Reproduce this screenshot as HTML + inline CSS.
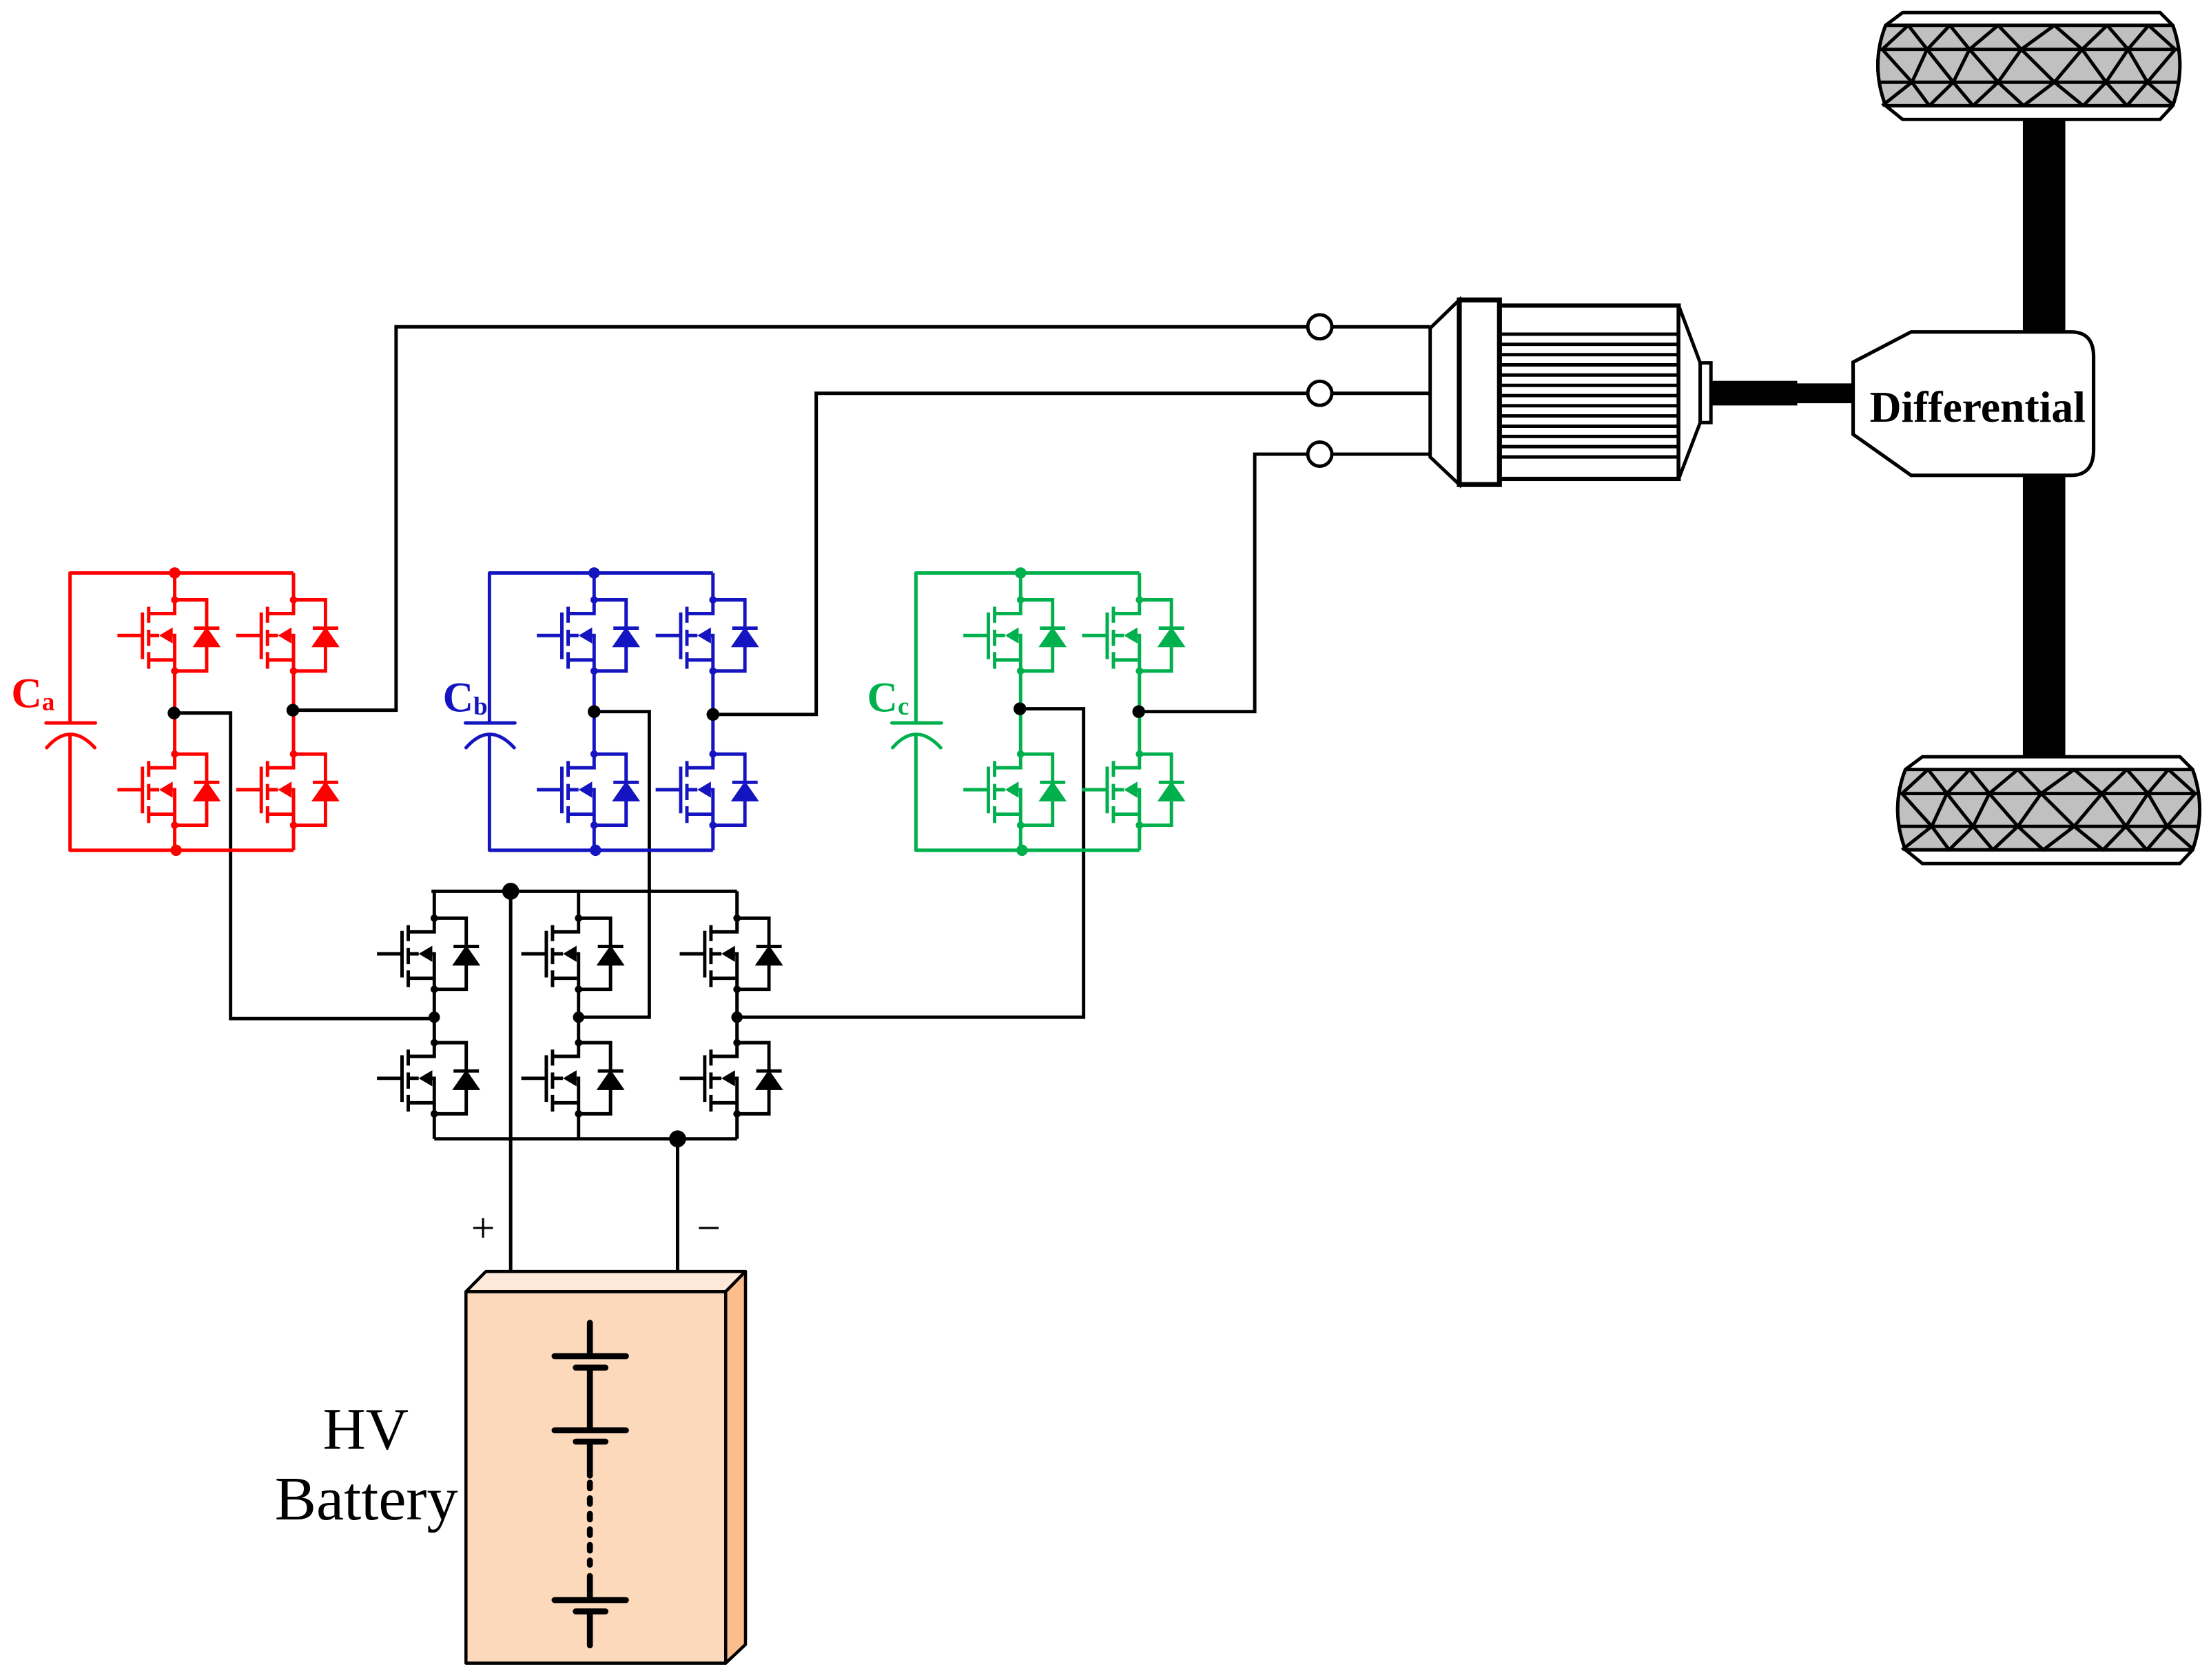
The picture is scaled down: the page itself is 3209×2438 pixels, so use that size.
<!DOCTYPE html>
<html><head><meta charset="utf-8"><style>html,body{margin:0;padding:0;background:#fff}svg{display:block}</style></head>
<body>
<svg xmlns="http://www.w3.org/2000/svg" xmlns:xlink="http://www.w3.org/1999/xlink" width="3209" height="2438" viewBox="0 0 1563 1187.5" preserveAspectRatio="none">
<defs>
<g id="m" stroke="currentColor" stroke-width="2.4" fill="none">
  <path d="M0,0 V9.7 H-18.4 M-18.4,4.9 V16.2 M-18.4,21.1 V32.5 M-18.4,36.9 V48.7 M-22.8,8.9 V41.9 M-40.5,25.2 H-22.8 M-18.4,25.2 H-11 M-1.4,25.2 H0 V50.3 M-18.4,42.5 H0 M0,0 H22.6 V50.3 H0 M13.6,20 H31.6"/>
  <polygon points="-11,25.2 -1.4,19.5 -1.4,30.9" fill="currentColor" stroke="none"/>
  <polygon points="13.6,33 31.6,33 22.6,20" fill="currentColor" stroke="currentColor" stroke-width="1"/>
  <circle cx="0" cy="0" r="2.6" fill="currentColor" stroke="none"/>
  <circle cx="0" cy="50.3" r="2.6" fill="currentColor" stroke="none"/>
</g>
<g id="br">
  <g stroke="currentColor" stroke-width="2.4" fill="none">
    <path d="M0,405 H158 M0,601 H158 M74,405 V424 M74,474 V533 M74,583 V601 M158,405 V424 M158,474 V533 M158,583 V601"/>
    <path d="M0,405 V511 M-17,511 H18 M-16.5,528.5 Q0,509.5 17.5,528.5 M0,519 V601" stroke-linecap="round"/>
  </g>
  <use xlink:href="#m" x="74" y="424"/><use xlink:href="#m" x="74" y="533"/>
  <use xlink:href="#m" x="158" y="424"/><use xlink:href="#m" x="158" y="533"/>
  <circle cx="74" cy="405" r="4" fill="currentColor"/><circle cx="75" cy="601" r="4" fill="currentColor"/>
</g>
</defs>

<g stroke="#000" stroke-width="2.4" fill="none">
  <path d="M123,504 H163 V720 H307"/>
  <path d="M207,502 H280 V231 H924.5"/>
  <path d="M420,503 H459 V719 H409"/>
  <path d="M504,505 H577 V278 H924.5"/>
  <path d="M721,501 H766 V719 H521"/>
  <path d="M805,503 H887 V321 H924.5"/>
</g>

<g color="#ff0000" transform="translate(49.5,0)"><use xlink:href="#br"/></g>
<g color="#1414c0" transform="translate(346,0)"><use xlink:href="#br"/></g>
<g color="#00b04c" transform="translate(647.5,0)"><use xlink:href="#br"/></g>
<g fill="#000">
  <circle cx="123" cy="504" r="4.5"/><circle cx="207" cy="502" r="4.5"/>
  <circle cx="420" cy="503" r="4.5"/><circle cx="504" cy="505" r="4.5"/>
  <circle cx="721" cy="501" r="4.5"/><circle cx="805" cy="503" r="4.5"/>
</g>
<g font-family="Liberation Serif, serif" font-weight="bold">
  <text x="8" y="500" font-size="30" fill="#ff0000">C<tspan font-size="18" dy="2">a</tspan></text>
  <text x="313" y="503" font-size="30" fill="#1414c0">C<tspan font-size="18" dy="2">b</tspan></text>
  <text x="613" y="503" font-size="30" fill="#00b04c">C<tspan font-size="18" dy="2">c</tspan></text>
</g>

<g color="#000">
  <g stroke="#000" stroke-width="2.4" fill="none">
    <path d="M305,630 H521 M307,805 H521"/>
    <path d="M307,630 V649 M307,699 V737 M307,787 V805"/>
    <path d="M409,630 V649 M409,699 V737 M409,787 V805"/>
    <path d="M521,630 V649 M521,699 V737 M521,787 V805"/>
    <path d="M361,630 V900 M479,805 V900"/>
  </g>
  <use xlink:href="#m" x="307" y="649"/><use xlink:href="#m" x="307" y="737"/>
  <use xlink:href="#m" x="409" y="649"/><use xlink:href="#m" x="409" y="737"/>
  <use xlink:href="#m" x="521" y="649"/><use xlink:href="#m" x="521" y="737"/>
  <circle cx="361" cy="630" r="6"/><circle cx="479" cy="805" r="6"/>
  <circle cx="307" cy="719" r="4"/><circle cx="409" cy="719" r="4"/><circle cx="521" cy="719" r="4"/>
</g>

<g stroke="#000" stroke-width="2.2" stroke-linejoin="round">
  <polygon points="329.4,913 343.5,898.7 527,898.7 513,913" fill="#fee8d8"/>
  <polygon points="513,913 527,898.7 527,1162.4 513,1175.6" fill="#fbbd8c"/>
  <rect x="329.4" y="913" width="183.6" height="262.6" fill="#fdd9bc"/>
</g>
<g stroke="#000" stroke-width="4.2" stroke-linecap="round" fill="none">
  <path d="M417,935 V958.6 M392,958.6 H442.5 M407,966.7 H428 M417,966.7 V1011 M392,1011 H442.5 M407,1019 H428 M417,1019 V1043"/>
  <path d="M417,1048 V1106" stroke-dasharray="4,7"/>
  <path d="M417,1114 V1131 M392,1131 H442.5 M407,1139 H428 M417,1139 V1163"/>
</g>
<g font-family="Liberation Serif, serif" fill="#000">
  <text x="258.5" y="1024" font-size="42" text-anchor="middle">HV</text>
  <text x="259" y="1074" font-size="44" text-anchor="middle">Battery</text>
  <text x="341.5" y="878" font-size="30" text-anchor="middle">+</text>
  <text x="501" y="878" font-size="30" text-anchor="middle">−</text>
</g>

<g stroke="#000" stroke-width="2.4" fill="#fff">
  <circle cx="933" cy="231" r="8.5"/><circle cx="933" cy="278" r="8.5"/><circle cx="933" cy="321" r="8.5"/>
  <path d="M941.5,231 H1011 M941.5,278 H1011 M941.5,321 H1011" fill="none"/>
  <polygon points="1011,232 1031.6,212 1031.6,342.5 1011,323"/>
  <rect x="1060" y="216" width="126.7" height="122.5" stroke-width="3"/>
  <rect x="1031.6" y="212" width="28.4" height="130.5" stroke-width="3.5"/>
  <path d="M1060,236.2 H1186.7 M1060,243.4 H1186.7 M1060,250.7 H1186.7 M1060,257.9 H1186.7 M1060,265.1 H1186.7 M1060,272.4 H1186.7 M1060,279.6 H1186.7 M1060,286.8 H1186.7 M1060,294 H1186.7 M1060,301.3 H1186.7 M1060,308.5 H1186.7 M1060,315.7 H1186.7 M1060,323 H1186.7" fill="none"/>
  <polygon points="1186.7,216 1201.9,256.5 1201.9,298.7 1186.7,338.5"/>
  <rect x="1201.9" y="256.5" width="7.6" height="42.2"/>
</g>
<rect x="1209.5" y="269.2" width="61" height="17.4" fill="#000"/>
<rect x="1270" y="271" width="42" height="14" fill="#000"/>

<rect x="1430" y="80" width="30" height="460" fill="#000"/>

<path d="M1351,234.6 H1464 Q1480,234.6 1480,252 V318 Q1480,336 1464,336 H1351 L1310,307 V256 Z" fill="#fff" stroke="#000" stroke-width="2.5"/>
<text x="1398" y="298" font-family="Liberation Serif, serif" font-weight="bold" font-size="31" text-anchor="middle" fill="#000">Differential</text>

<g id="wh" stroke="#000" stroke-width="2.4" stroke-linejoin="round">
  <path d="M1345,8.9 H1527 L1536,17.9 Q1546,46 1536,74.7 L1527,84.4 H1345 L1333,74.7 Q1322,46 1333,17.9 Z" fill="#fff"/>
  <path d="M1333,17.9 H1536 Q1546,46 1536,74.7 H1333 Q1322,46 1333,17.9 Z" fill="#c0c0c0"/>
  <path d="M1328,34.9 H1541 M1328,58.1 H1541" fill="none"/>
  <polyline fill="none" points="1330.6,34.9 1349,17.9 1362.3,34.9 1378.4,17.9 1392.3,34.9 1412.5,17.9 1428.9,34.9 1452.3,17.9 1471.9,34.9 1489.6,17.9 1504.4,34.9 1518.9,17.9 1537.7,34.9"/>
  <polyline fill="none" points="1330.6,34.9 1351.6,58.1 1362.3,34.9 1380.8,58.1 1392.3,34.9 1412.5,58.1 1428.9,34.9 1452.3,58.1 1471.9,34.9 1488.8,58.1 1504.4,34.9 1518,58.1 1537.7,34.9"/>
  <polyline fill="none" points="1330.6,74.7 1351.6,58.1 1363.9,74.7 1380.8,58.1 1394.8,74.7 1412.5,58.1 1430.5,74.7 1452.3,58.1 1472.7,74.7 1488.8,58.1 1503.6,74.7 1518,58.1 1536.9,74.7"/>
</g>
<use xlink:href="#wh" transform="translate(14,526)"/>
</svg>
</body></html>
